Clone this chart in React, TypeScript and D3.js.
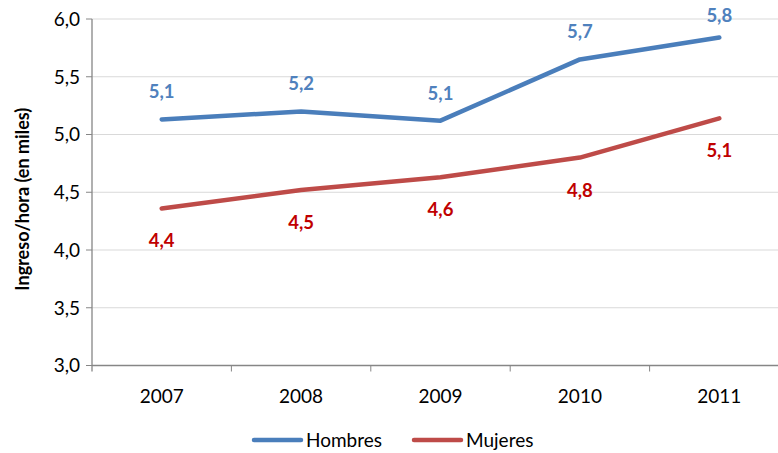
import React from "react";
import * as d3 from "d3";

const years = ["2007", "2008", "2009", "2010", "2011"];
const hombres = [5.13, 5.2, 5.12, 5.65, 5.84];
const mujeres = [4.36, 4.52, 4.63, 4.8, 5.14];
const hombresLabels = ["5,1", "5,2", "5,1", "5,7", "5,8"];
const mujeresLabels = ["4,4", "4,5", "4,6", "4,8", "5,1"];
const yTicks = [3.0, 3.5, 4.0, 4.5, 5.0, 5.5, 6.0];

const W = 778;
const H = 453;
const left = 92;
const right = 789;
const top = 19;
const bottom = 365.5;
const font = "Lato, 'Open Sans', sans-serif";

export default function App() {
  const x = d3.scaleBand<string>().domain(years).range([left, right]);
  const y = d3.scaleLinear().domain([3, 6]).range([bottom, top]);
  const cx = (d: string) => (x(d) as number) + x.bandwidth() / 2;
  const line = d3
    .line<number>()
    .x((_, i) => cx(years[i]))
    .y((v) => y(v));
  const fmt = (v: number) => v.toFixed(1).replace(".", ",");

  return (
    <svg
      width={W}
      height={H}
      style={{ position: "absolute", left: 0, top: 0, background: "#fff" }}
      fontFamily={font}
    >
      {yTicks.map((t) => (
        <g key={t}>
          {t > 3 && (
            <line x1={left} x2={right} y1={y(t)} y2={y(t)} stroke="#D9D9D9" strokeWidth={1} />
          )}
          <line x1={left - 6} x2={left} y1={y(t)} y2={y(t)} stroke="#868686" strokeWidth={1} />
          <text x={left - 12} y={y(t)} dy="0.36em" textAnchor="end" fontSize={19} fill="#000">
            {fmt(t)}
          </text>
        </g>
      ))}
      <line x1={left} x2={left} y1={top} y2={bottom + 6} stroke="#868686" strokeWidth={1.3} />
      <line x1={left} x2={right} y1={bottom} y2={bottom} stroke="#868686" strokeWidth={1.3} />
      {years.map((yr) => (
        <g key={yr}>
          <line
            x1={(x(yr) as number) + x.bandwidth()}
            x2={(x(yr) as number) + x.bandwidth()}
            y1={bottom}
            y2={bottom + 6}
            stroke="#868686"
          />
          <text x={cx(yr)} y={bottom + 37} textAnchor="middle" fontSize={19} fill="#000">
            {yr}
          </text>
        </g>
      ))}
      <path d={line(hombres) as string} fill="none" stroke="#4A7EBB" strokeWidth={4.5} strokeLinecap="round" strokeLinejoin="round" />
      <path d={line(mujeres) as string} fill="none" stroke="#BE4B48" strokeWidth={4.5} strokeLinecap="round" strokeLinejoin="round" />
      {hombres.map((v, i) => (
        <text key={"h" + i} x={cx(years[i])} y={Math.max(y(v) - 21, 22)} textAnchor="middle" fontSize={18.5} fontWeight="bold" fill="#4F81BD">
          {hombresLabels[i]}
        </text>
      ))}
      {mujeres.map((v, i) => (
        <text key={"m" + i} x={cx(years[i])} y={y(v) + 39} textAnchor="middle" fontSize={18.5} fontWeight="bold" fill="#C00000">
          {mujeresLabels[i]}
        </text>
      ))}
      <text
        transform={`translate(29,${(top + bottom) / 2 + 7}) rotate(-90)`}
        textAnchor="middle"
        fontSize={18}
        fontWeight="bold"
        fill="#000"
      >
        Ingreso/hora (en miles)
      </text>
      <g>
        <line x1={254} x2={301} y1={440} y2={440} stroke="#4A7EBB" strokeWidth={4.5} strokeLinecap="round" />
        <text x={306} y={440} dy="0.36em" fontSize={19} fill="#000">Hombres</text>
        <line x1={414} x2={461} y1={440} y2={440} stroke="#BE4B48" strokeWidth={4.5} strokeLinecap="round" />
        <text x={466} y={440} dy="0.36em" fontSize={19} fill="#000">Mujeres</text>
      </g>
    </svg>
  );
}
